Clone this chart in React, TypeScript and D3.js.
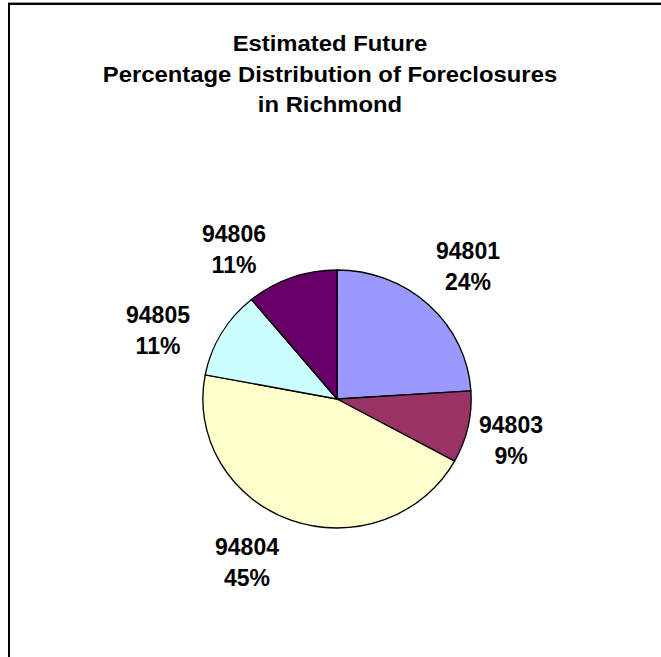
import React from "react";
import * as d3 from "d3";

const categories = ["94801", "94803", "94804", "94805", "94806"];
const values = [24, 9, 45, 11, 11];
const colors = ["#9999FF", "#993366", "#FFFFCC", "#CCFFFF", "#660066"];
const titleLines = ["Estimated Future", "Percentage Distribution of Foreclosures", "in Richmond"];
// label anchor positions (centre x, baseline of first line)
const labelPos: [number, number][] = [
  [468, 259],
  [511, 433],
  [247, 555],
  [158, 323],
  [234, 242],
];

export default function App() {
  const W = 661, H = 657;
  const cx = 337, cy = 399, r = 129, sx = 1.04;
  const pie = d3.pie<number>().sort(null).startAngle(0).endAngle(2 * Math.PI);
  const arcs = pie(values);
  const arc = d3.arc<d3.PieArcDatum<number>>().innerRadius(0).outerRadius(r);
  const font = "'Liberation Sans', Arial, sans-serif";
  return (
    <svg width={W} height={H} style={{ position: "absolute", left: 0, top: 0 }} fontFamily={font}>
      <rect x={0} y={0} width={W} height={H} fill="#fff" />
      <line x1={8} x2={W} y1={2.5} y2={2.5} stroke="#9a9a9a" strokeWidth={1} />
      <line x1={8} x2={W} y1={4} y2={4} stroke="#000" strokeWidth={2} />
      <line x1={9} x2={9} y1={3} y2={H} stroke="#000" strokeWidth={2} />
      {titleLines.map((t, i) => (
        <g key={i} transform={`translate(330,${51 + i * 30.7}) scale(1.06,1)`}>
          <text x={0} y={0} textAnchor="middle" fontWeight="bold" fontSize={22.5}>
            {t}
          </text>
        </g>
      ))}
      <g transform={`translate(${cx},${cy}) scale(${sx},1)`}>
        {arcs.map((a, i) => (
          <path key={i} d={arc(a) || ""} fill={colors[i]} stroke="#000" strokeWidth={1.3} />
        ))}
      </g>
      {arcs.map((a, i) => (
        <g key={i} fontWeight="bold" fontSize={23} textAnchor="middle">
          <text x={labelPos[i][0]} y={labelPos[i][1]}>{categories[i]}</text>
          <text x={labelPos[i][0]} y={labelPos[i][1] + 31}>{`${values[i]}%`}</text>
        </g>
      ))}
    </svg>
  );
}
